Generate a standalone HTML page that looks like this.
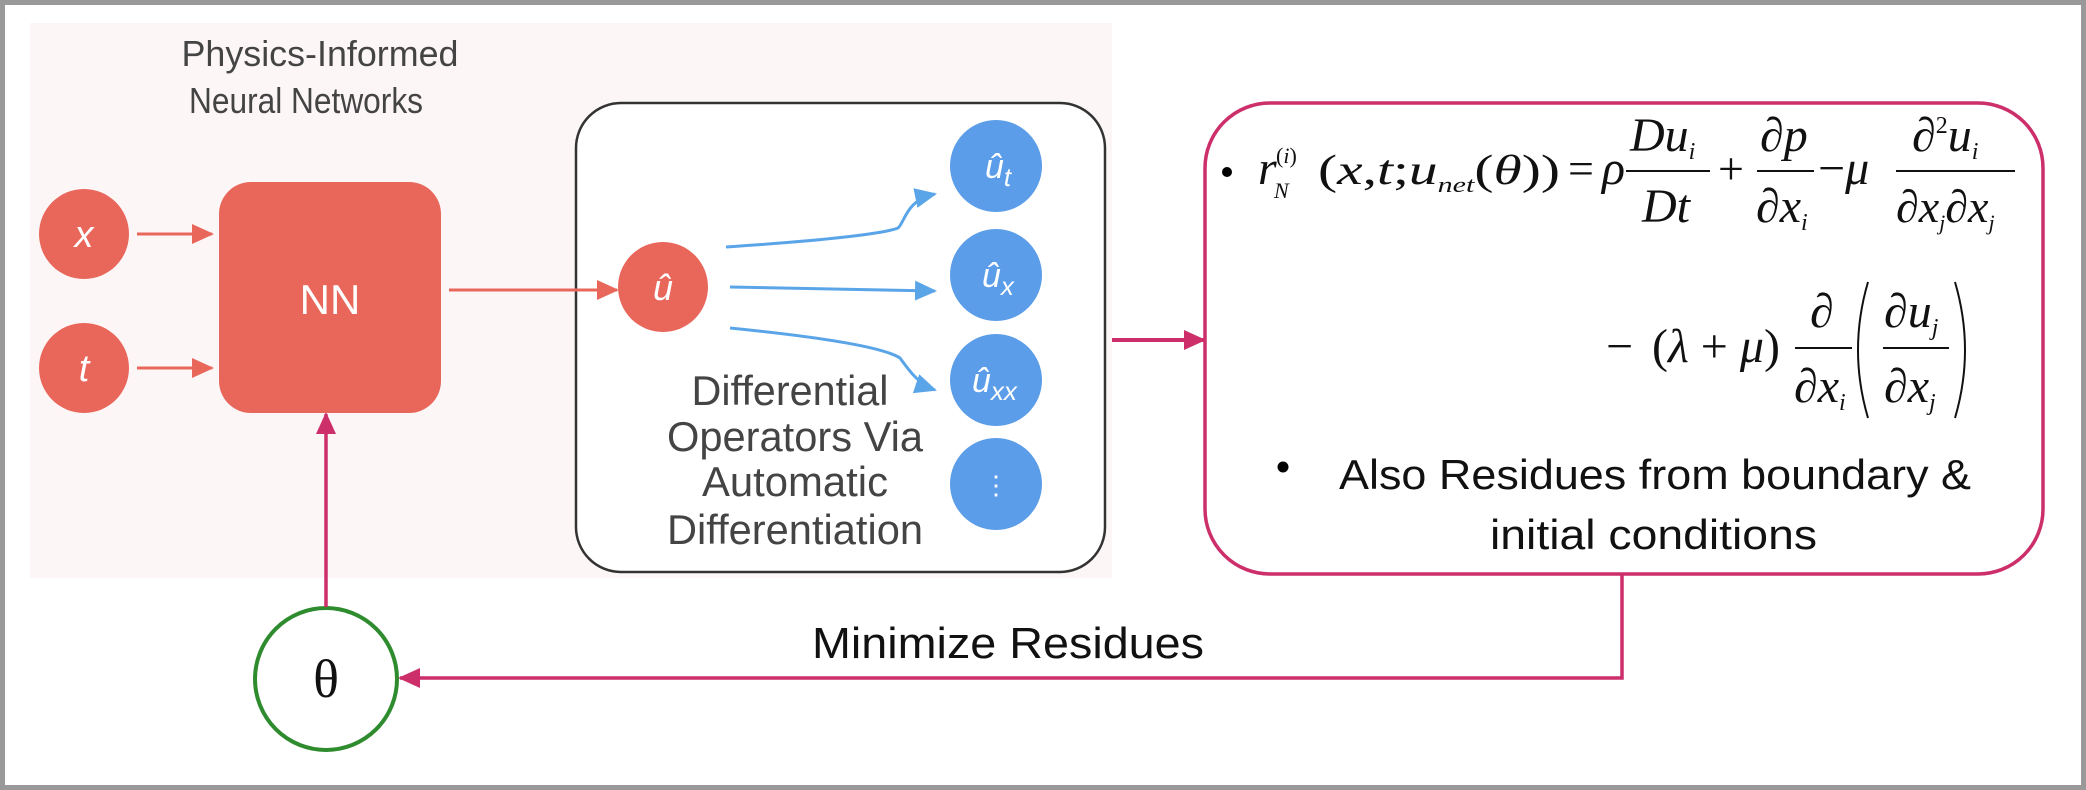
<!DOCTYPE html>
<html><head><meta charset="utf-8"><style>
html,body{margin:0;padding:0;background:#fff;}
svg{display:block;}
</style></head><body>
<svg width="2086" height="790" viewBox="0 0 2086 790" xmlns="http://www.w3.org/2000/svg">
<defs>
<marker id="ar" markerWidth="22" markerHeight="20" refX="20" refY="10" orient="auto" markerUnits="userSpaceOnUse" viewBox="0 0 22 20"><path d="M0,0 L22,10 L0,20 z" fill="#e8675a"/></marker>
<marker id="ab" markerWidth="22" markerHeight="20" refX="20" refY="10" orient="auto" viewBox="0 0 22 20" markerUnits="userSpaceOnUse"><path d="M0,0 L22,10 L0,20 z" fill="#5aa5e8"/></marker>
<marker id="am" markerWidth="22" markerHeight="20" refX="20" refY="10" orient="auto" viewBox="0 0 22 20" markerUnits="userSpaceOnUse"><path d="M0,0 L22,10 L0,20 z" fill="#cc2f6a"/></marker>
</defs>
<rect x="0" y="0" width="2086" height="790" fill="#fff"/>
<rect x="2.5" y="2.5" width="2081" height="785" fill="none" stroke="#999" stroke-width="5"/>
<rect x="30" y="23" width="1082" height="555" fill="#fdf6f7"/>
<text x="320" y="66" font-family="Liberation Sans, sans-serif" font-size="36" fill="#444" text-anchor="middle" textLength="277" lengthAdjust="spacingAndGlyphs">Physics-Informed</text>
<text x="306" y="113" font-family="Liberation Sans, sans-serif" font-size="36" fill="#444" text-anchor="middle" textLength="234" lengthAdjust="spacingAndGlyphs">Neural Networks</text>
<circle cx="84" cy="234" r="45" fill="#e8675a"/>
<text x="84" y="247" font-family="Liberation Sans, sans-serif" font-style="italic" font-size="38" fill="#fff" text-anchor="middle">x</text>
<circle cx="84" cy="368" r="45" fill="#e8675a"/>
<text x="84" y="381" font-family="Liberation Sans, sans-serif" font-style="italic" font-size="38" fill="#fff" text-anchor="middle">t</text>
<line x1="137" y1="234" x2="212" y2="234" stroke="#e8675a" stroke-width="3" marker-end="url(#ar)"/>
<line x1="137" y1="368" x2="212" y2="368" stroke="#e8675a" stroke-width="3" marker-end="url(#ar)"/>
<rect x="219" y="182" width="222" height="231" rx="32" fill="#e8675a"/>
<text x="330" y="314" font-family="Liberation Sans, sans-serif" font-size="42" fill="#fff" text-anchor="middle">NN</text>
<rect x="576" y="103" width="529" height="469" rx="45" fill="#fff" stroke="#333" stroke-width="2.5"/>
<line x1="449" y1="290" x2="617" y2="290" stroke="#e8675a" stroke-width="3" marker-end="url(#ar)"/>
<circle cx="663" cy="287" r="45" fill="#e8675a"/>
<text x="663" y="300" font-family="Liberation Sans, sans-serif" font-style="italic" font-size="36" fill="#fff" text-anchor="middle">û</text>
<path d="M726,247 C800,242 880,235 898,228 C905,222 906,200 935,194" fill="none" stroke="#5aa5e8" stroke-width="3" marker-end="url(#ab)"/>
<line x1="730" y1="287" x2="935" y2="291" stroke="#5aa5e8" stroke-width="3" marker-end="url(#ab)"/>
<path d="M730,328 C800,335 880,345 900,358 C910,372 920,385 935,390" fill="none" stroke="#5aa5e8" stroke-width="3" marker-end="url(#ab)"/>
<g font-family="Liberation Sans, sans-serif" font-style="italic" fill="#fff" font-size="34">
<circle cx="996" cy="166" r="46" fill="#5b9de8"/>
<text x="985" y="178">û<tspan font-size="26" dy="8">t</tspan></text>
<circle cx="996" cy="275" r="46" fill="#5b9de8"/>
<text x="982" y="287">û<tspan font-size="26" dy="8">x</tspan></text>
<circle cx="996" cy="380" r="46" fill="#5b9de8"/>
<text x="972" y="392">û<tspan font-size="26" dy="8">xx</tspan></text>
<circle cx="996" cy="484" r="46" fill="#5b9de8"/>
<text x="996" y="494" text-anchor="middle" font-style="normal" font-size="26">⋮</text>
</g>
<g font-family="Liberation Sans, sans-serif" font-size="42" fill="#444" text-anchor="middle">
<text x="790" y="405" textLength="197" lengthAdjust="spacingAndGlyphs">Differential</text>
<text x="795" y="451" textLength="256" lengthAdjust="spacingAndGlyphs">Operators Via</text>
<text x="795" y="496" textLength="186" lengthAdjust="spacingAndGlyphs">Automatic</text>
<text x="795" y="544" textLength="256" lengthAdjust="spacingAndGlyphs">Differentiation</text>
</g>
<line x1="1112" y1="340" x2="1204" y2="340" stroke="#cc2f6a" stroke-width="4" marker-end="url(#am)"/>
<rect x="1205" y="103" width="838" height="471" rx="65" fill="#fff" stroke="#cc2f6a" stroke-width="3.5"/>
<g font-family="Liberation Serif, serif" fill="#111">
<circle cx="1227" cy="172" r="5" fill="#000"/>
<text x="1258" y="184" font-size="48" font-style="italic">r</text>
<text x="1274" y="198" font-size="22" font-style="italic">N</text>
<text x="1276" y="163" font-size="22">(<tspan font-style="italic">i</tspan>)</text>
<text x="1318" y="184" font-size="42" textLength="242" lengthAdjust="spacingAndGlyphs"><tspan>(</tspan><tspan font-style="italic">x</tspan>,<tspan font-style="italic">t</tspan>;<tspan font-style="italic">u</tspan><tspan font-size="22" font-style="italic" dy="8">net</tspan><tspan dy="-8">(</tspan><tspan font-style="italic">θ</tspan>))</text>
<text x="1568" y="184" font-size="46">=</text>
<text x="1602" y="184" font-size="48" font-style="italic">ρ</text>
<text x="1630" y="151" font-size="48" font-style="italic">Du<tspan font-size="24" dy="8">i</tspan></text>
<line x1="1626" y1="171" x2="1710" y2="171" stroke="#111" stroke-width="2"/>
<text x="1642" y="222" font-size="48" font-style="italic">Dt</text>
<text x="1718" y="184" font-size="46">+</text>
<text x="1760" y="151" font-size="48" font-style="italic">∂p</text>
<line x1="1757" y1="171" x2="1814" y2="171" stroke="#111" stroke-width="2"/>
<text x="1756" y="222" font-size="48" font-style="italic">∂x<tspan font-size="24" dy="8">i</tspan></text>
<text x="1818" y="184" font-size="48">−<tspan font-style="italic">μ</tspan></text>
<text x="1912" y="151" font-size="48" font-style="italic">∂<tspan font-size="24" dy="-18" font-style="normal">2</tspan><tspan dy="18">u</tspan><tspan font-size="24" dy="8">i</tspan></text>
<line x1="1896" y1="171" x2="2015" y2="171" stroke="#111" stroke-width="2"/>
<text x="1896" y="222" font-size="46" font-style="italic">∂x<tspan font-size="22" dy="8">j</tspan><tspan dy="-8">∂x</tspan><tspan font-size="22" dy="8">j</tspan></text>
<text x="1606" y="362" font-size="48">−</text>
<text x="1652" y="362" font-size="48">(<tspan font-style="italic">λ</tspan> + <tspan font-style="italic">μ</tspan>)</text>
<text x="1810" y="327" font-size="48" font-style="italic">∂</text>
<line x1="1795" y1="348" x2="1852" y2="348" stroke="#111" stroke-width="2"/>
<text x="1794" y="402" font-size="48" font-style="italic">∂x<tspan font-size="24" dy="8">i</tspan></text>
<path d="M1868,282 Q1848,350 1868,418" fill="none" stroke="#111" stroke-width="2"/>
<text x="1884" y="327" font-size="48" font-style="italic">∂u<tspan font-size="24" dy="8">j</tspan></text>
<line x1="1883" y1="348" x2="1949" y2="348" stroke="#111" stroke-width="2"/>
<text x="1884" y="402" font-size="48" font-style="italic">∂x<tspan font-size="24" dy="8">j</tspan></text>
<path d="M1955,282 Q1975,350 1955,418" fill="none" stroke="#111" stroke-width="2"/>
</g>
<circle cx="1283" cy="467" r="5.5" fill="#000"/>
<text x="1339" y="489" font-family="Liberation Sans, sans-serif" font-size="42" fill="#111" textLength="632" lengthAdjust="spacingAndGlyphs">Also Residues from boundary &amp;</text>
<text x="1490" y="549" font-family="Liberation Sans, sans-serif" font-size="42" fill="#111" textLength="327" lengthAdjust="spacingAndGlyphs">initial conditions</text>
<polyline points="1622,574 1622,678 400,678" fill="none" stroke="#cc2f6a" stroke-width="3.5" marker-end="url(#am)"/>
<text x="1008" y="658" font-family="Liberation Sans, sans-serif" font-size="44" fill="#111" text-anchor="middle" textLength="392" lengthAdjust="spacingAndGlyphs">Minimize Residues</text>
<circle cx="326" cy="679" r="71" fill="#fff" stroke="#2e8b2e" stroke-width="4"/>
<text x="326" y="697" font-family="Liberation Serif, serif" font-size="54" fill="#111" text-anchor="middle">θ</text>
<line x1="326" y1="607" x2="326" y2="414" stroke="#cc2f6a" stroke-width="3.5" marker-end="url(#am)"/>
</svg>
</body></html>
